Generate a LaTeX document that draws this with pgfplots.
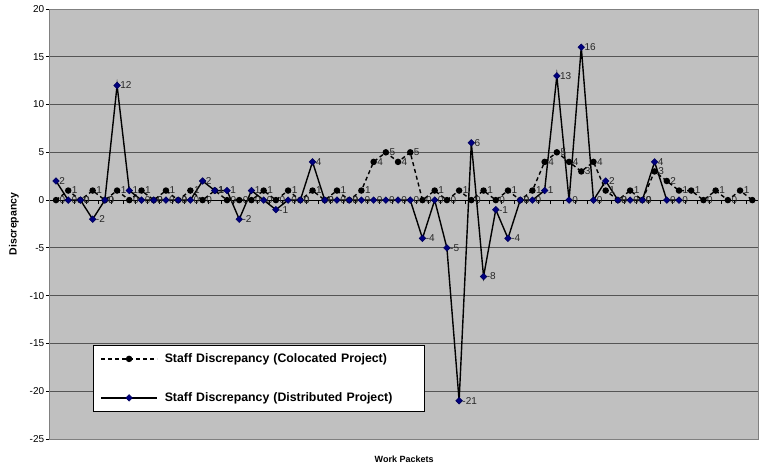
\documentclass[border=0pt]{standalone}
\usepackage{fontspec}
\setmainfont{Liberation Sans}
\usepackage{pgfplots}
\usepackage{pgfplotstable}
\pgfplotsset{compat=1.18}

\definecolor{plotgray}{RGB}{192,192,192}
\definecolor{gridgray}{RGB}{85,85,85}
\definecolor{bordergray}{RGB}{128,128,128}
\definecolor{navy}{RGB}{0,0,128}

% staff discrepancy per work packet, colocated project
% (lbl: data label shown next to the point; the last one sits at the edge and is left out)
\pgfplotstableread{
i v lbl
0 0 0
1 1 1
2 0 0
3 1 1
4 0 0
5 1 1
6 0 0
7 1 1
8 0 0
9 1 1
10 0 0
11 1 1
12 0 0
13 1 1
14 0 0
15 0 0
16 0 0
17 1 1
18 0 0
19 1 1
20 0 0
21 1 1
22 0 0
23 1 1
24 0 0
25 1 1
26 4 4
27 5 5
28 4 4
29 5 5
30 0 0
31 1 1
32 0 0
33 1 1
34 0 0
35 1 1
36 0 0
37 1 1
38 0 0
39 1 1
40 4 4
41 5 5
42 4 4
43 3 3
44 4 4
45 1 1
46 0 0
47 1 1
48 0 0
49 3 3
50 2 2
51 1 1
52 1 1
53 0 0
54 1 1
55 0 0
56 1 1
57 0 {}
}\colocated

% staff discrepancy per work packet, distributed project
\pgfplotstableread{
i v lbl
0 2 2
1 0 0
2 0 0
3 -2 -2
4 0 0
5 12 12
6 1 1
7 0 0
8 0 0
9 0 0
10 0 0
11 0 0
12 2 2
13 1 1
14 1 1
15 -2 -2
16 1 1
17 0 0
18 -1 -1
19 0 0
20 0 0
21 4 4
22 0 0
23 0 0
24 0 0
25 0 0
26 0 0
27 0 0
28 0 0
29 0 0
30 -4 -4
31 0 0
32 -5 -5
33 -21 -21
34 6 6
35 -8 -8
36 -1 -1
37 -4 -4
38 0 0
39 0 0
40 1 1
41 13 13
42 0 0
43 16 16
44 0 0
45 2 2
46 0 0
47 0 0
48 0 0
49 4 4
50 0 0
51 0 0
}\distributed

\newcommand{\lblfont}{\fontsize{10}{12}\selectfont}

\begin{document}
\begin{tikzpicture}
\useasboundingbox (0,0) rectangle (760pt,468pt);
\begin{axis}[
  at={(49.9pt,29pt)}, anchor=south west,
  scale only axis, width=708.5pt, height=430pt,
  xmin=-0.5, xmax=57.5, ymin=-25, ymax=20,
  axis x line=middle, axis y line=left,
  axis line style={-, black, line width=0.8pt},
  xtick={-0.5,0.5,...,57.5}, xticklabels={},
  ytick={-25,-20,...,20},
  tick align=outside, major tick length=4pt,
  tick style={black, line width=0.8pt},
  hide obscured x ticks=false, hide obscured y ticks=false,
  ymajorgrids, grid style={gridgray, line width=0.8pt},
  axis background/.style={fill=plotgray},
  /pgf/number format/assume math mode=true,
  ticklabel style={font=\lblfont},
  yticklabel style={inner sep=1.5pt},
  clip=false,
  point meta=explicit symbolic,
  nodes near coords,
  every node near coord/.style={anchor=west, xshift=2.5pt, inner sep=0.5pt, font=\lblfont, text=black!85},
  legend image code/.code={
    \draw[mark repeat=2, mark phase=2, #1]
      plot coordinates {(0pt,0pt) (28pt,0pt) (56pt,0pt)};
  },
  legend cell align=left,
  legend style={
    at={(0.0608,0.2186)}, anchor=north west,
    draw=black, line width=0.8pt, fill=white,
    inner xsep=7pt, inner ysep=7.5pt,
    column sep=7pt, row sep=27pt,
    font=\bfseries\fontsize{12.3}{14}\selectfont,
    nodes={anchor=west, inner sep=0pt, text width=253pt, text height=10pt, text depth=2pt},
  },
]
\draw[bordergray, line width=0.8pt] (rel axis cs:0,0) rectangle (rel axis cs:1,1);

\addplot[black, line width=1.4pt, dash pattern=on 4pt off 3pt,
  mark=*, mark size=2.5pt, mark options={solid, fill=black}]
  table[x=i, y=v, meta=lbl] {\colocated};
\addlegendentry{Staff Discrepancy (Colocated Project)}

\addplot[black, line width=1.4pt,
  mark=square*, mark size=2.3pt,
  mark options={solid, rotate=45, fill=navy, draw=navy!70!black, line width=0.6pt}]
  table[x=i, y=v, meta=lbl] {\distributed};
\addlegendentry{Staff Discrepancy (Distributed Project)}

\node[font=\bfseries\fontsize{9}{10}\selectfont] at ([yshift=-20pt]rel axis cs:0.5,0) {Work Packets};
\node[rotate=90, font=\bfseries\fontsize{10.5}{12}\selectfont] at ([xshift=-36pt]rel axis cs:0,0.5) {Discrepancy};
\end{axis}
\end{tikzpicture}
\end{document}
